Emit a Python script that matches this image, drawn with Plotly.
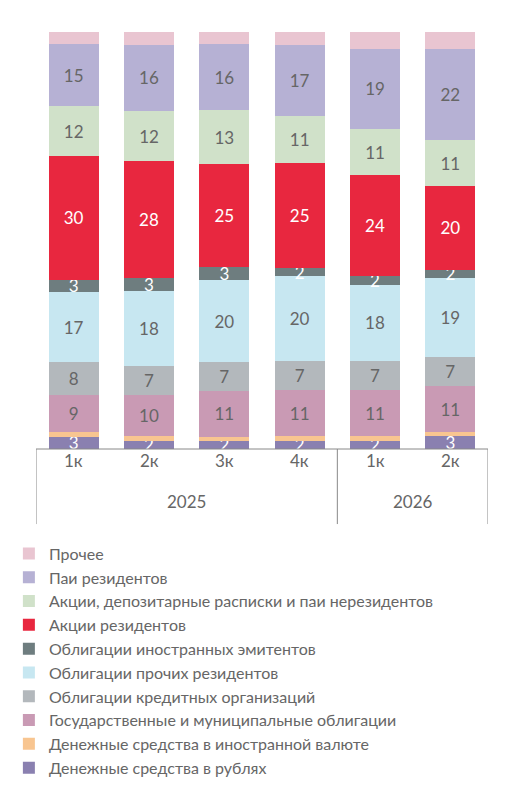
import plotly.graph_objects as go

quarters = ["1к", "2к", "3к", "4к", "1к", "2к"]
years = ["2025", "2026"]
series = [
    ("Денежные средства в рублях", [3, 2, 2, 2, 2, 3], "#8a80b0", "white", True),
    ("Денежные средства в иностранной валюте", [1, 1, 1, 1, 1, 1], "#f8c590", "#666", False),
    ("Государственные и муниципальные облигации", [9, 10, 11, 11, 11, 11], "#c99ab4", "#666", True),
    ("Облигации кредитных организаций", [8, 7, 7, 7, 7, 7], "#b3b8bc", "#666", True),
    ("Облигации прочих резидентов", [17, 18, 20, 20, 18, 19], "#c7e7f1", "#666", True),
    ("Облигации иностранных эмитентов", [3, 3, 3, 2, 2, 2], "#6e7d7f", "white", True),
    ("Акции резидентов", [30, 28, 25, 25, 24, 20], "#e8273f", "white", True),
    ("Акции, депозитарные расписки и паи нерезидентов", [12, 12, 13, 11, 11, 11], "#d0e1c9", "#666", True),
    ("Паи резидентов", [15, 16, 16, 17, 19, 22], "#b6b1d4", "#666", True),
    ("Прочее", [3, 3, 3, 3, 4, 4], "#e9c5d1", "#666", False),
]

fig = go.Figure()
for name, vals, col, tcol, lab in series:
    fig.add_bar(x=list(range(6)), y=vals, name=name, marker_color=col,
                marker_line_width=0, width=0.66,
                text=[str(v) for v in vals] if lab else None,
                textposition="inside", insidetextanchor="middle",
                constraintext="none",
                textfont=dict(color=tcol, size=17, family="Lato"),
                textangle=0, cliponaxis=False)

shapes = [dict(type="line", xref="x", yref="paper", x0=-0.5, x1=5.5, y0=0, y1=0,
               line=dict(color="#888", width=1))]
for xb in [-0.5, 3.5, 5.5]:
    shapes.append(dict(type="line", xref="x", yref="paper", x0=xb, x1=xb, y0=0, y1=-0.18,
                       line=dict(color="#888", width=1)))
ann = []
for i, q in enumerate(quarters):
    ann.append(dict(x=i, y=-0.058, xref="x", yref="paper", text=q, showarrow=False,
                    font=dict(size=17, color="#666", family="Lato")))
ann.append(dict(x=1.5, y=-0.155, xref="x", yref="paper", text=years[0], showarrow=False,
                font=dict(size=17, color="#666", family="Lato")))
ann.append(dict(x=4.5, y=-0.155, xref="x", yref="paper", text=years[1], showarrow=False,
                font=dict(size=17, color="#666", family="Lato")))

fig.update_layout(
    barmode="stack", barnorm="percent", width=510, height=793,
    margin=dict(l=28, r=30, t=24, b=352, autoexpand=False),
    plot_bgcolor="white", paper_bgcolor="white",
    xaxis=dict(range=[-0.5, 5.5], showticklabels=False, showgrid=False, zeroline=False),
    yaxis=dict(range=[0, 100], visible=False),
    showlegend=True,
    legend=dict(orientation="v", x=-0.06, xanchor="left", y=-0.21, yanchor="top",
                traceorder="reversed", font=dict(size=16, color="#666", family="Lato"),
                itemwidth=30, tracegroupgap=0),
    shapes=shapes, annotations=ann,
)
fig.write_html("out.html")
